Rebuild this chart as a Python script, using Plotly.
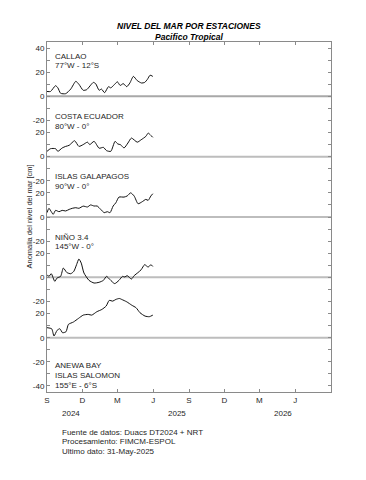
import plotly.graph_objects as go
import pandas as pd

base = pd.Timestamp("2024-09-01")

station_names = ["CALLAO", "COSTA ECUADOR", "ISLAS GALAPAGOS", "NIÑO 3.4", "ANEWA BAY"]
station_coords = ["77°W - 12°S", "80°W - 0°", "90°W - 0°", "145°W - 0°", "ISLAS SALOMON<br>155°E - 6°S"]
offsets = [0, -50, -100, -150, -200]

callao_days = [0, 9, 22, 28, 35, 48, 61, 74, 82, 93, 102, 119, 125, 134, 140, 148, 158, 164, 171, 181,
               188, 196, 205, 213, 222, 232, 243, 251, 258, 265, 272]
callao = [4, 4, 8.8, 7, 2.5, 2.2, 6, 12.4, 10, 5, 5.5, 11.5, 10.5, 5, 6, 3, 8, 7, 9, 12,
          9, 10.5, 8, 11, 16.5, 13, 11, 11.5, 14, 17.5, 16.5]

ecuador_days = [0, 9, 22, 28, 39, 48, 57, 71, 82, 93, 104, 110, 121, 134, 145, 153, 164, 175, 182, 189,
                198, 208, 217, 232, 242, 254, 260, 267, 272]
ecuador = [4.4, 6.6, 6.6, 4.4, 7.2, 8.5, 9.4, 13.2, 8.5, 10, 12, 10, 12.7, 7, 7.7, 5, 4.4, 12.7, 10.5, 9.9,
           7.2, 11.3, 15.4, 12, 14, 16.8, 19.5, 17.6, 16]

galap_days = [0, 5, 11, 16, 22, 31, 39, 48, 57, 65, 74, 82, 93, 104, 112, 121, 129, 138, 147, 155,
              162, 170, 177, 185, 198, 206, 215, 224, 234, 245, 254, 260, 267, 272]
galap = [3.6, 7.2, 4.4, 2.2, 5.5, 4.4, 5.5, 5, 6.3, 7.2, 7.7, 7.2, 9, 8.3, 10, 9.1, 9.1, 6.3, 3.6, 4.4,
         3.6, 9.1, 11.8, 16.5, 16.5, 17.4, 20, 17.4, 11, 12.7, 14.6, 13.8, 17.4, 19.3]

nino_days = [0, 5, 11, 20, 26, 35, 42, 51, 61, 69, 76, 82, 88, 95, 108, 121, 134, 145, 153, 162,
             174, 185, 194, 200, 206, 217, 224, 234, 242, 251, 260, 267, 272]
nino = [2.2, 0.8, 3, -3.3, -0.5, 0.8, 7.7, 4, 3, 5, 10.5, 15.2, 11.8, 3.6, -2.5, -4.7, -4.1, -2.5, 0.8, -1.9,
        -5.2, -2.5, 0.8, 0.3, 1.4, -1.4, 1.4, 4, 6.3, 10.5, 8.5, 10.5, 9]

anewa_days = [0, 12, 18, 26, 33, 40, 49, 55, 68, 81, 93, 106, 115, 128, 141, 152, 160, 169, 177, 186,
              192, 205, 218, 229, 239, 252, 263, 272]
anewa = [8.3, 7.4, 1.4, 6.1, 7.4, 4.1, 5, 11, 13, 16, 18.7, 19.3, 18.7, 21.5, 23.4, 26.2, 30.9, 30.3, 31.7, 32.5,
         31.7, 29.7, 26.9, 24.8, 20.7, 17.9, 17.4, 18.7]

series_days = [callao_days, ecuador_days, galap_days, nino_days, anewa_days]
series_vals = [callao, ecuador, galap, nino, anewa]

xtick_dates = ["2024-09-01", "2024-12-01", "2025-03-01", "2025-06-01",
               "2025-09-01", "2025-12-01", "2026-03-01", "2026-06-01"]
xtick_text = ["S", "D", "M", "J", "S", "D", "M", "J"]
year_labels = ["2024", "2025", "2026"]
year_pos = ["2024-11-01", "2025-07-31", "2026-04-30"]

ytick_vals = list(range(-240, 41, 10))
ytick_labels = {40: "40", 20: "20", 0: "0", -20: "-20", -30: "20", -50: "0", -70: "-20", -80: "20",
                -100: "0", -120: "-20", -130: "20", -150: "0", -170: "-20", -180: "20", -200: "0",
                -220: "-20", -240: "-40"}
ytick_text = [ytick_labels.get(v, "") for v in ytick_vals]

FONT = "Liberation Sans, Arial, Helvetica, sans-serif"
TXT = "#262626"
AX = "#8a8a8a"

fig = go.Figure()
for k in range(5):
    dates = [base + pd.Timedelta(days=d) for d in series_days[k]]
    fig.add_trace(go.Scatter(
        x=dates, y=[v + offsets[k] for v in series_vals[k]], mode="lines",
        line=dict(color="#111111", width=1, shape="spline", smoothing=0.6),
        showlegend=False, hoverinfo="skip"))

shapes = []
for i, off in enumerate(offsets):
    shapes.append(dict(type="line", xref="paper", x0=0, x1=1, yref="y", y0=off, y1=off,
                       line=dict(color="#a8a8a8" if i == 0 else "#bdbdbd", width=2), layer="below"))

annotations = []
for k in range(4):
    annotations.append(dict(xref="paper", x=0.021, yref="y", y=offsets[k] + 33.2,
                            text=station_names[k], showarrow=False, xanchor="left", yanchor="middle",
                            font=dict(family=FONT, size=8, color=TXT)))
    annotations.append(dict(xref="paper", x=0.021, yref="y", y=offsets[k] + 25.2,
                            text=station_coords[k], showarrow=False, xanchor="left", yanchor="middle",
                            font=dict(family=FONT, size=8, color=TXT)))
annotations.append(dict(xref="paper", x=0.021, yref="y", y=-200 - 22.8,
                        text=station_names[4], showarrow=False, xanchor="left", yanchor="middle",
                        font=dict(family=FONT, size=8, color=TXT)))
annotations.append(dict(xref="paper", x=0.021, yref="y", y=-200 - 31.2,
                        text="ISLAS SALOMON", showarrow=False, xanchor="left", yanchor="middle",
                        font=dict(family=FONT, size=8, color=TXT)))
annotations.append(dict(xref="paper", x=0.021, yref="y", y=-200 - 39.5,
                        text="155°E - 6°S", showarrow=False, xanchor="left", yanchor="middle",
                        font=dict(family=FONT, size=8, color=TXT)))

for yl, yp in zip(year_labels, year_pos):
    annotations.append(dict(xref="x", x=yp, yref="paper", y=-0.06, text=yl, showarrow=False,
                            xanchor="center", yanchor="middle",
                            font=dict(family=FONT, size=8, color=TXT)))

annotations.append(dict(xref="paper", x=0.5, yref="paper", y=1.046, text="<b><i>NIVEL DEL MAR POR ESTACIONES</i></b>",
                        showarrow=False, xanchor="center", yanchor="middle",
                        font=dict(family=FONT, size=8.5, color="#000000")))
annotations.append(dict(xref="paper", x=0.5, yref="paper", y=1.0145, text="<b><i>Pacifico Tropical</i></b>",
                        showarrow=False, xanchor="center", yanchor="middle",
                        font=dict(family=FONT, size=8.5, color="#000000")))
annotations.append(dict(xref="paper", x=-0.065, yref="paper", y=0.5, text="Anomalia del nivel del mar [cm]",
                        textangle=-90, showarrow=False, xanchor="center", yanchor="middle",
                        font=dict(family=FONT, size=7.5, color=TXT)))
footer = ["Fuente de datos: Duacs DT2024 + NRT", "Procesamiento: FIMCM-ESPOL", "Ultimo dato: 31-May-2025"]
for i, line in enumerate(footer):
    annotations.append(dict(xref="paper", x=(59.5 - 47) / 284, yref="paper",
                            y=(392.5 - (432.7 + 9.6 * i)) / 350.8, text=line,
                            showarrow=False, xanchor="left", yanchor="middle",
                            font=dict(family=FONT, size=8, color=TXT)))

fig.update_layout(
    width=366, height=480,
    margin=dict(l=47, r=35, t=42, b=88, pad=0),
    paper_bgcolor="white", plot_bgcolor="white",
    shapes=shapes, annotations=annotations,
    font=dict(family=FONT, size=8, color=TXT),
    xaxis=dict(type="date", range=["2024-09-01", "2026-09-01"],
               tickvals=xtick_dates, ticktext=xtick_text, tickmode="array",
               ticks="inside", ticklen=3, tickcolor=AX, tickwidth=1,
               showline=True, linecolor=AX, linewidth=1, mirror="ticks",
               showgrid=False, zeroline=False, tickfont=dict(family=FONT, size=8, color=TXT)),
    yaxis=dict(range=[-245, 45], tickmode="array", tickvals=ytick_vals, ticktext=ytick_text,
               ticks="inside", ticklen=3, tickcolor=AX, tickwidth=1,
               showline=True, linecolor=AX, linewidth=1, mirror="ticks",
               showgrid=False, zeroline=False, tickfont=dict(family=FONT, size=8, color=TXT)),
)

fig.write_html("out.html", config={"displayModeBar": False},
               post_script="document.body.style.margin='0';document.body.style.overflow='hidden';")
